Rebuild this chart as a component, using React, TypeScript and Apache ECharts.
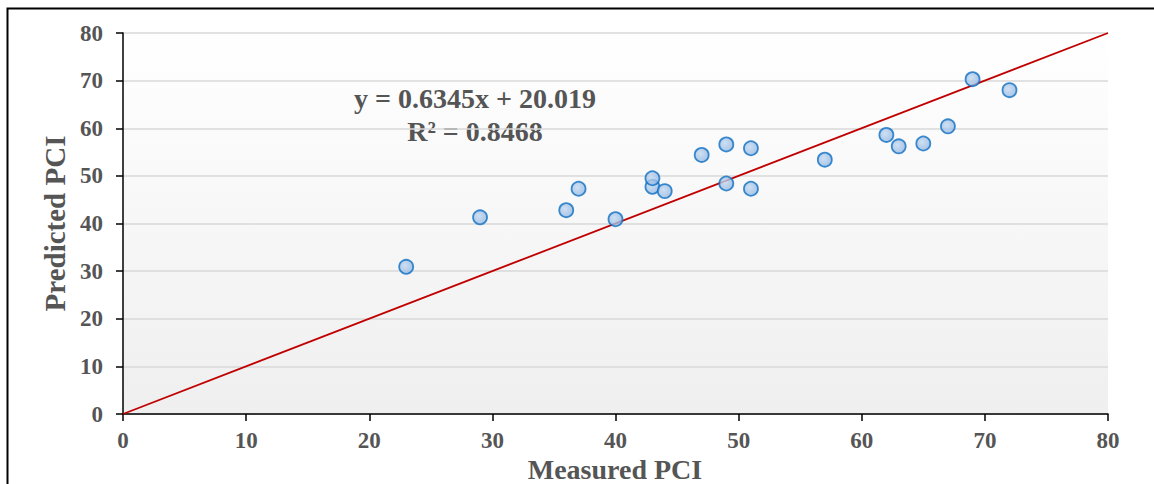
import React, { useEffect, useRef } from "react";
import * as echarts from "echarts";

const measured = [23, 29, 36, 37, 40, 43, 43, 44, 47, 49, 49, 51, 51, 57, 62, 63, 65, 67, 69, 72];
const predicted = [30.9, 41.3, 42.8, 47.3, 40.9, 47.7, 49.5, 46.8, 54.4, 56.6, 48.4, 55.8, 47.3, 53.4, 58.6, 56.2, 56.8, 60.4, 70.3, 68.0];
const refLine = [[0, 0], [80, 80]];
const equationText = "y = 0.6345x + 20.019";
const r2Text = "R² = 0.8468";
const xTitle = "Measured PCI";
const yTitle = "Predicted PCI";

export default function App() {
  const ref = useRef<HTMLDivElement>(null);
  useEffect(() => {
    document.body.style.margin = "0";
    const chart = echarts.init(ref.current!, null, { renderer: "svg" });
    const font = "'Liberation Serif', 'Times New Roman', serif";
    const gray = "#555555";
    chart.setOption({
      animation: false,
      backgroundColor: "#ffffff",
      grid: {
        left: 123,
        right: 46,
        top: 33,
        bottom: 70,
        containLabel: false,
        outerBoundsMode: "none",
        show: true,
        borderWidth: 0,
        backgroundColor: new echarts.graphic.LinearGradient(0, 0, 0, 1, [
          { offset: 0, color: "#ffffff" },
          { offset: 1, color: "#efefef" },
        ]),
      },
      xAxis: {
        type: "value",
        min: 0,
        max: 80,
        interval: 10,
        axisLine: { show: true, onZero: false, lineStyle: { color: "#000", width: 1.5 } },
        axisTick: { show: true, length: 7, lineStyle: { color: "#000", width: 1.5 } },
        axisLabel: { fontFamily: font, fontWeight: "bold", fontSize: 23, color: gray, margin: 15 },
        splitLine: { show: false },
      },
      yAxis: {
        type: "value",
        min: 0,
        max: 80,
        interval: 10,
        name: yTitle,
        nameLocation: "middle",
        nameGap: 52,
        nameRotate: 90,
        nameTextStyle: { fontFamily: font, fontWeight: "bold", fontSize: 29, color: gray },
        axisLine: { show: true, onZero: false, lineStyle: { color: "#000", width: 1.5 } },
        axisTick: { show: true, length: 7, lineStyle: { color: "#000", width: 1.5 } },
        axisLabel: { fontFamily: font, fontWeight: "bold", fontSize: 23, color: gray, margin: 20 },
        splitLine: { show: true, lineStyle: { color: "#d9d9d9", width: 1.5 } },
      },
      series: [
        {
          type: "line",
          data: refLine,
          symbol: "none",
          lineStyle: { color: "#c00000", width: 1.8 },
          z: 2,
        },
        {
          type: "scatter",
          data: measured.map((m, i) => [m, predicted[i]]),
          symbol: "circle",
          symbolSize: 14,
          itemStyle: {
            color: new echarts.graphic.RadialGradient(0.4, 0.4, 0.7, [
              { offset: 0, color: "#c3d9f0" },
              { offset: 1, color: "#8db3e2" },
            ]),
            borderColor: "#0f6fc2",
            borderWidth: 1.8,
          },
          z: 3,
        },
      ],
      graphic: [
        {
          type: "rect",
          shape: { x: 7.5, y: 8.5, width: 1160, height: 500 },
          style: { fill: "none", stroke: "#000", lineWidth: 2 },
          silent: true,
        },
        {
          type: "text",
          x: 615,
          y: 469,
          style: {
            text: xTitle,
            fontFamily: font,
            fontWeight: "bold",
            fontSize: 28,
            fill: gray,
            textAlign: "center",
            textVerticalAlign: "middle",
          },
        },
        {
          type: "text",
          x: 475,
          y: 98,
          style: {
            text: equationText,
            fontFamily: font,
            fontWeight: "bold",
            fontSize: 28,
            fill: gray,
            textAlign: "center",
            textVerticalAlign: "middle",
          },
        },
        {
          type: "text",
          x: 475,
          y: 131,
          style: {
            text: r2Text,
            fontFamily: font,
            fontWeight: "bold",
            fontSize: 28,
            fill: gray,
            textAlign: "center",
            textVerticalAlign: "middle",
          },
        },
      ],
    });
    return () => chart.dispose();
  }, []);
  return <div ref={ref} style={{ width: 1154, height: 484 }} />;
}
